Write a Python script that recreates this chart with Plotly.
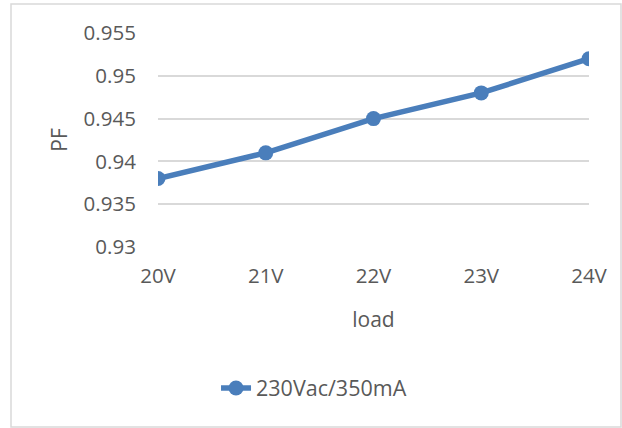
import plotly.graph_objects as go

categories = ["20V", "21V", "22V", "23V", "24V"]
pf_values = [0.938, 0.941, 0.945, 0.948, 0.952]
series_name = "230Vac/350mA"
y_ticks = [0.93, 0.935, 0.94, 0.945, 0.95, 0.955]
y_tick_labels = ["0.93", "0.935", "0.94", "0.945", "0.95", "0.955"]

color = "#4A7EBB"
font_family = "Open Sans, Noto Sans, sans-serif"
text_color = "#595959"

fig = go.Figure()
fig.add_trace(go.Scatter(
    x=list(range(len(categories))), y=pf_values, name=series_name,
    mode="lines+markers",
    line=dict(color=color, width=5.5),
    marker=dict(color=color, size=15),
    showlegend=True,
))

fig.update_layout(
    width=622, height=428,
    margin=dict(l=158, r=33, t=33, b=181),
    paper_bgcolor="white", plot_bgcolor="white",
    font=dict(family=font_family, color=text_color, size=20),
    xaxis=dict(
        range=[0, 4], tickmode="array", tickvals=list(range(len(categories))),
        ticktext=categories, showgrid=False, zeroline=False, showline=False,
        ticks="outside", ticklen=10, tickcolor="rgba(0,0,0,0)",
        title=dict(text="load", font=dict(size=21, color=text_color), standoff=24),
        tickfont=dict(size=20.5, color=text_color),
    ),
    yaxis=dict(
        range=[0.93, 0.955], tickmode="array", tickvals=y_ticks, ticktext=y_tick_labels,
        showgrid=True, gridcolor="#D9D9D9", gridwidth=1.5, zeroline=False, showline=False,
        ticks="outside", ticklen=17, tickcolor="rgba(0,0,0,0)",
        title=dict(text="PF", font=dict(size=21, color=text_color), standoff=10),
        tickfont=dict(size=20.5, color=text_color),
    ),
    legend=dict(
        orientation="h", x=0.362, xanchor="center", y=-0.659, yanchor="middle",
        font=dict(size=21.5, color=text_color), bgcolor="rgba(0,0,0,0)",
    ),
    shapes=[dict(type="rect", xref="paper", yref="paper",
                 x0=-147/431, x1=(621-158)/431, y0=-(427-247)/214, y1=(247-4)/214,
                 line=dict(color="#D9D9D9", width=1.5), fillcolor="rgba(0,0,0,0)",
                 layer="below")],
)

fig.write_html("out.html", config={"displayModeBar": False},
               post_script="document.body.style.margin='0';document.body.style.padding='0';window.dispatchEvent(new Event('resize'));")
